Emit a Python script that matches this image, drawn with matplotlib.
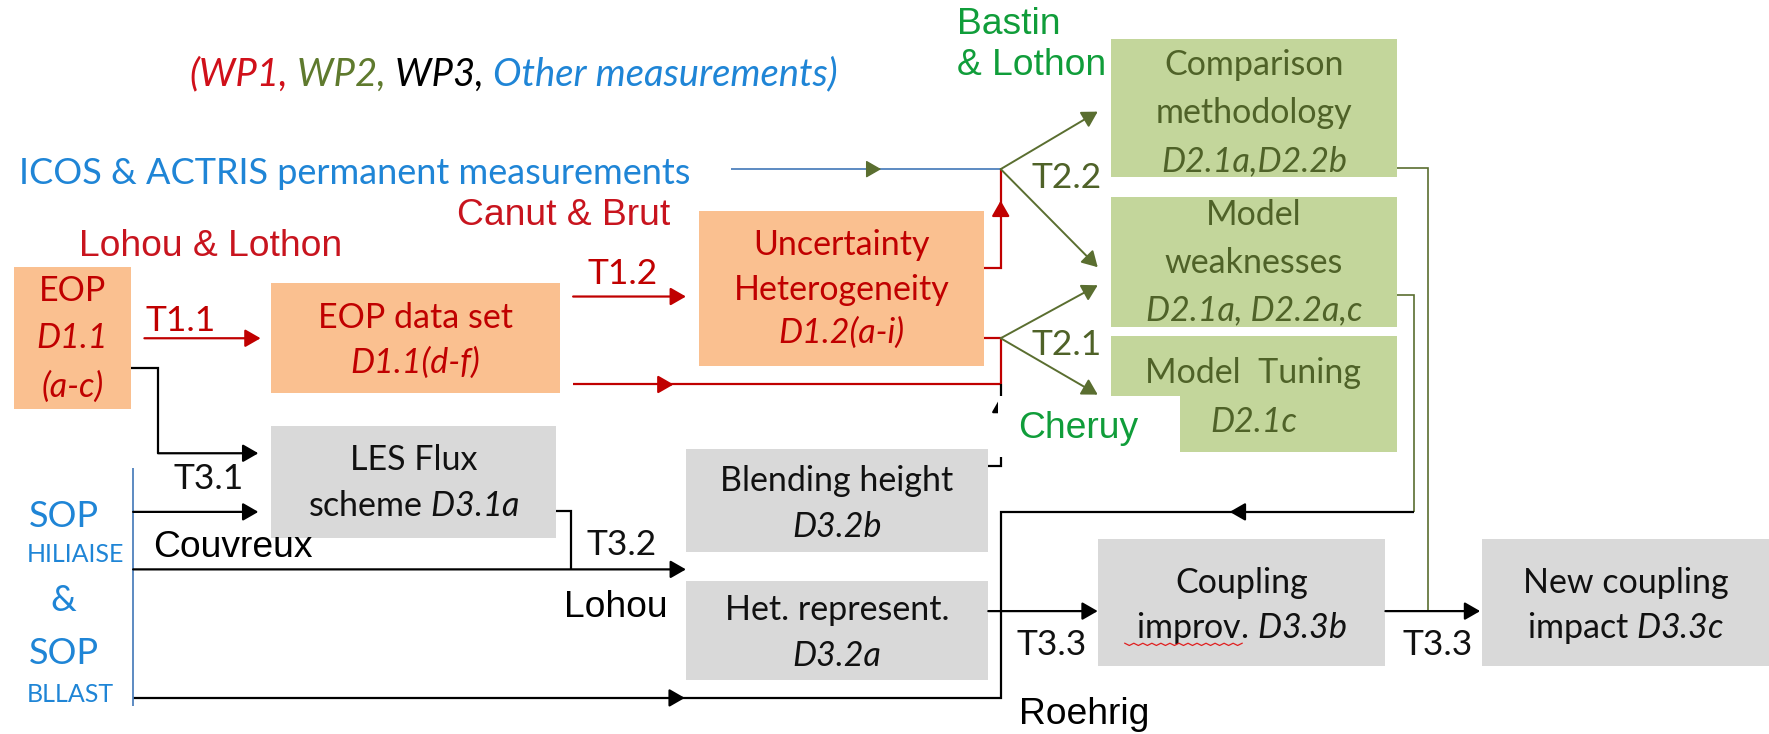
import matplotlib
matplotlib.use("Agg")
import numpy as np
import matplotlib.pyplot as plt
from matplotlib.patches import Rectangle, Polygon, FancyArrowPatch

# ---------------- content ----------------
legend_parts = ["(WP1,", " WP2,", " WP3,", " Other measurements)"]
legend_roles = ["wp1", "wp2", "wp3", "other"]

box_lines = {
    "eop":      ["EOP", "D1.1", "(a-c)"],
    "eopdata":  ["EOP data set", "D1.1(d-f)"],
    "unc":      ["Uncertainty", "Heterogeneity", "D1.2(a-i)"],
    "comp":     ["Comparison", "methodology", "D2.1a,D2.2b"],
    "weak":     ["Model", "weaknesses", "D2.1a, D2.2a,c"],
    "tuning":   ["Model  Tuning", "D2.1c"],
    "les":      ["LES Flux", "scheme $\\mathrm{D3.1a}$"],
    "blend":    ["Blending height", "D3.2b"],
    "het":      ["Het. represent.", "D3.2a"],
    "coup":     ["Coupling", "improv. $\\mathrm{D3.3b}$"],
    "new":      ["New coupling", "impact $\\mathrm{D3.3c}$"],
}
box_italic = {
    "eop": [False, True, True], "eopdata": [False, True],
    "unc": [False, False, True], "comp": [False, False, True],
    "weak": [False, False, True], "tuning": [False, True],
    "les": [False, False], "blend": [False, True], "het": [False, True],
    "coup": [False, False], "new": [False, False],
}
box_wp = {"eop": "wp1", "eopdata": "wp1", "unc": "wp1",
          "comp": "wp2", "weak": "wp2", "tuning": "wp2",
          "les": "wp3", "blend": "wp3", "het": "wp3", "coup": "wp3", "new": "wp3"}

measurement_label = "ICOS & ACTRIS permanent measurements"
sop_labels = ["SOP", "HILIAISE", "&", "SOP", "BLLAST"]

task_labels = ["T1.1", "T1.2", "T2.2", "T2.1", "T3.1", "T3.2", "T3.3", "T3.3"]
task_wp = ["wp1", "wp1", "wp2", "wp2", "wp3", "wp3", "wp3", "wp3"]

people = ["Lohou & Lothon", "Canut & Brut", "Bastin\n& Lothon", "Cheruy",
          "Couvreux", "Lohou", "Roehrig"]
people_wp = ["wp1", "wp1", "wp2", "wp2", "wp3", "wp3", "wp3"]

# ---------------- styles ----------------
fill = {"wp1": "#FAC090", "wp2": "#C3D69B", "wp3": "#D9D9D9"}
txtc = {"wp1": "#C00000", "wp2": "#4F6228", "wp3": "#111111", "other": "#1F85D6"}
namec = {"wp1": "#C8141E", "wp2": "#109D3A", "wp3": "#000000"}
legc = {"wp1": "#D0101A", "wp2": "#5F7A2E", "wp3": "#000000", "other": "#1F85D6"}
RED, OLIVE, BLK, BLUEL = "#C00000", "#5A6E30", "#000000", "#4F81BD"
CAL = ["Lato", "DejaVu Sans"]
ARI = ["Liberation Sans", "DejaVu Sans"]

plt.rcParams["mathtext.fontset"] = "custom"
plt.rcParams["mathtext.rm"] = "Lato:italic"
plt.rcParams["mathtext.it"] = "Lato:italic"

fig = plt.figure(figsize=(17.69, 7.34), dpi=100)
ax = fig.add_axes([0, 0, 1, 1])
ax.set_xlim(0, 1568)
ax.set_ylim(651, 0)
ax.axis("off")

BOX_FS = 24.5
TASK_FS = 25.5
NAME_FS = 26.8
HEAD = "-|>,head_length=0.47,head_width=0.27"

# ---------------- layout ----------------
box_rect = {
    "eop": (12, 237, 116, 363), "eopdata": (240, 251, 496, 349),
    "unc": (620, 187, 872, 325), "comp": (985, 35, 1238, 157),
    "weak": (985, 175, 1238, 290),
    "les": (240, 378, 493, 477), "blend": (608, 398, 876, 490),
    "het": (608, 515, 876, 603), "coup": (973, 478, 1228, 591),
    "new": (1314, 478, 1568, 591),
}
box_text_y = {
    "eop": [258, 300, 343], "eopdata": [282, 322], "unc": [217, 257, 295],
    "comp": [58, 100, 143], "weak": [191, 233, 275], "tuning": [331, 374],
    "les": [408, 449], "blend": [427, 467], "het": [541, 582],
    "coup": [517, 557], "new": [517, 557],
}

for k, (x0, y0, x1, y1) in box_rect.items():
    ax.add_patch(Rectangle((x0, y0), x1 - x0, y1 - y0, facecolor=fill[box_wp[k]],
                           edgecolor="none", zorder=1))
ax.add_patch(Polygon([(985, 298), (1238, 298), (1238, 401), (1046, 401), (1046, 362),
                      (985, 362)], closed=True, facecolor=fill["wp2"], edgecolor="none",
                     zorder=1))
box_cx = {k: (v[0] + v[2]) / 2 for k, v in box_rect.items()}
box_cx["tuning"] = 1111

for k, lines in box_lines.items():
    for s, it, y in zip(lines, box_italic[k], box_text_y[k]):
        ax.text(box_cx[k], y, s, fontsize=BOX_FS, family=CAL,
                fontstyle="italic" if it else "normal", color=txtc[box_wp[k]],
                ha="center", va="center", zorder=5)

# spell-check squiggle under "improv."
sq_x = np.linspace(997, 1101, 27)
sq_y = 571.5 + np.where(np.arange(sq_x.size) % 2 == 0, -1.0, 1.0)
ax.plot(sq_x, sq_y, color="#E02020", lw=0.9, zorder=6)


def poly(pts, color, lw=1.6, z=2):
    xs, ys = zip(*pts)
    ax.plot(xs, ys, color=color, lw=lw, solid_capstyle="butt",
            solid_joinstyle="miter", zorder=z)


def head(x0, y0, x1, y1, color, lw=1.6, z=3):
    ax.add_patch(FancyArrowPatch((x0, y0), (x1, y1), arrowstyle=HEAD,
                                 mutation_scale=20, color=color, lw=lw,
                                 shrinkA=0, shrinkB=0, zorder=z))


def arrow(x0, y0, x1, y1, color, lw=1.6):
    head(x0, y0, x1, y1, color, lw)


# WP1 red arrows
arrow(128, 300, 231, 300, RED)
arrow(508, 263, 608, 263, RED)
poly([(508, 341), (887, 341)], RED)
head(585, 341, 597, 341, RED)
poly([(872, 238), (887, 238), (887, 150)], RED)
head(887, 192, 887, 178, RED)
poly([(872, 300), (887, 300), (887, 341)], RED)

# ICOS line
poly([(648, 150), (887, 150)], BLUEL, lw=1.3)
head(770, 150, 781, 150, OLIVE, lw=1.0)

# WP2 fans
for (x0, y0, x1, y1) in [(887, 150, 973, 99), (887, 150, 973, 237),
                         (887, 300, 973, 253), (887, 300, 973, 350)]:
    arrow(x0, y0, x1, y1, OLIVE, lw=1.4)

# WP2 -> WP3 feedback lines
poly([(1238, 149), (1266, 149), (1266, 541)], OLIVE, lw=1.2)
poly([(1238, 262), (1253, 262), (1253, 454)], OLIVE, lw=1.2)
poly([(1253, 454), (887, 454), (887, 619), (118, 619)], BLK)
head(1102, 454, 1090, 454, BLK)
head(594, 619, 607, 619, BLK)

# WP3 black arrows
poly([(116, 326), (140, 326), (140, 402)], BLK)
arrow(140, 402, 229, 402, BLK)
arrow(118, 454, 229, 454, BLK)
arrow(118, 505, 608, 505, BLK)
poly([(493, 453), (506, 453), (506, 505)], BLK)
arrow(876, 542, 973, 542, BLK)
arrow(1228, 542, 1312, 542, BLK)

# blending height link (partly hidden)
poly([(876, 413), (887, 413), (887, 341)], BLK)
head(887, 364, 887, 352, BLK)
ax.add_patch(Rectangle((884.6, 351), 1046 - 884.6, 54, facecolor="white",
                       edgecolor="none", zorder=4))

# SOP blue vertical
poly([(118, 415), (118, 626)], BLUEL, lw=1.3)

# ---------------- free text ----------------
ax.text(17, 154, measurement_label, fontsize=26, family=CAL, color=txtc["other"],
        ha="left", va="center", zorder=5)

LEG_FS = 27.5
prev = ax.text(168, 66, legend_parts[0], fontsize=LEG_FS, family=CAL,
               fontstyle="italic", color=legc[legend_roles[0]], ha="left",
               va="center", zorder=5)
for s, r in zip(legend_parts[1:], legend_roles[1:]):
    prev = ax.annotate(s, xy=(1, 0.5), xycoords=prev, fontsize=LEG_FS, family=CAL,
                       fontstyle="italic", color=legc[r], ha="left", va="center",
                       zorder=5)

task_pos = [(160, 285), (552, 243), (945, 158), (945, 306), (185, 425),
            (551, 483), (932, 572), (1274, 572)]
for s, r, (x, y) in zip(task_labels, task_wp, task_pos):
    ax.text(x, y, s, fontsize=TASK_FS, family=CAL, color=txtc[r], ha="center",
            va="center", zorder=5)

people_pos = [(70, 219, "left"), (405, 191, "left"), (848, 40, "left"),
              (902, 380, "left"), (136, 486, "left"), (546, 539, "center"),
              (903, 634, "left")]
for s, r, (x, y, ha) in zip(people, people_wp, people_pos):
    ax.text(x, y, s, fontsize=NAME_FS, family=ARI, color=namec[r], ha=ha,
            va="center", linespacing=1.2, zorder=6)

sop_pos = [(57, 458, 26), (67, 492, 18), (56, 533, 26), (57, 580, 26), (62, 616, 18)]
for s, (x, y, fs) in zip(sop_labels, sop_pos):
    ax.text(x, y, s, fontsize=fs, family=CAL, color=txtc["other"], ha="center",
            va="center", zorder=5)

fig.savefig("out.png", dpi=100)
